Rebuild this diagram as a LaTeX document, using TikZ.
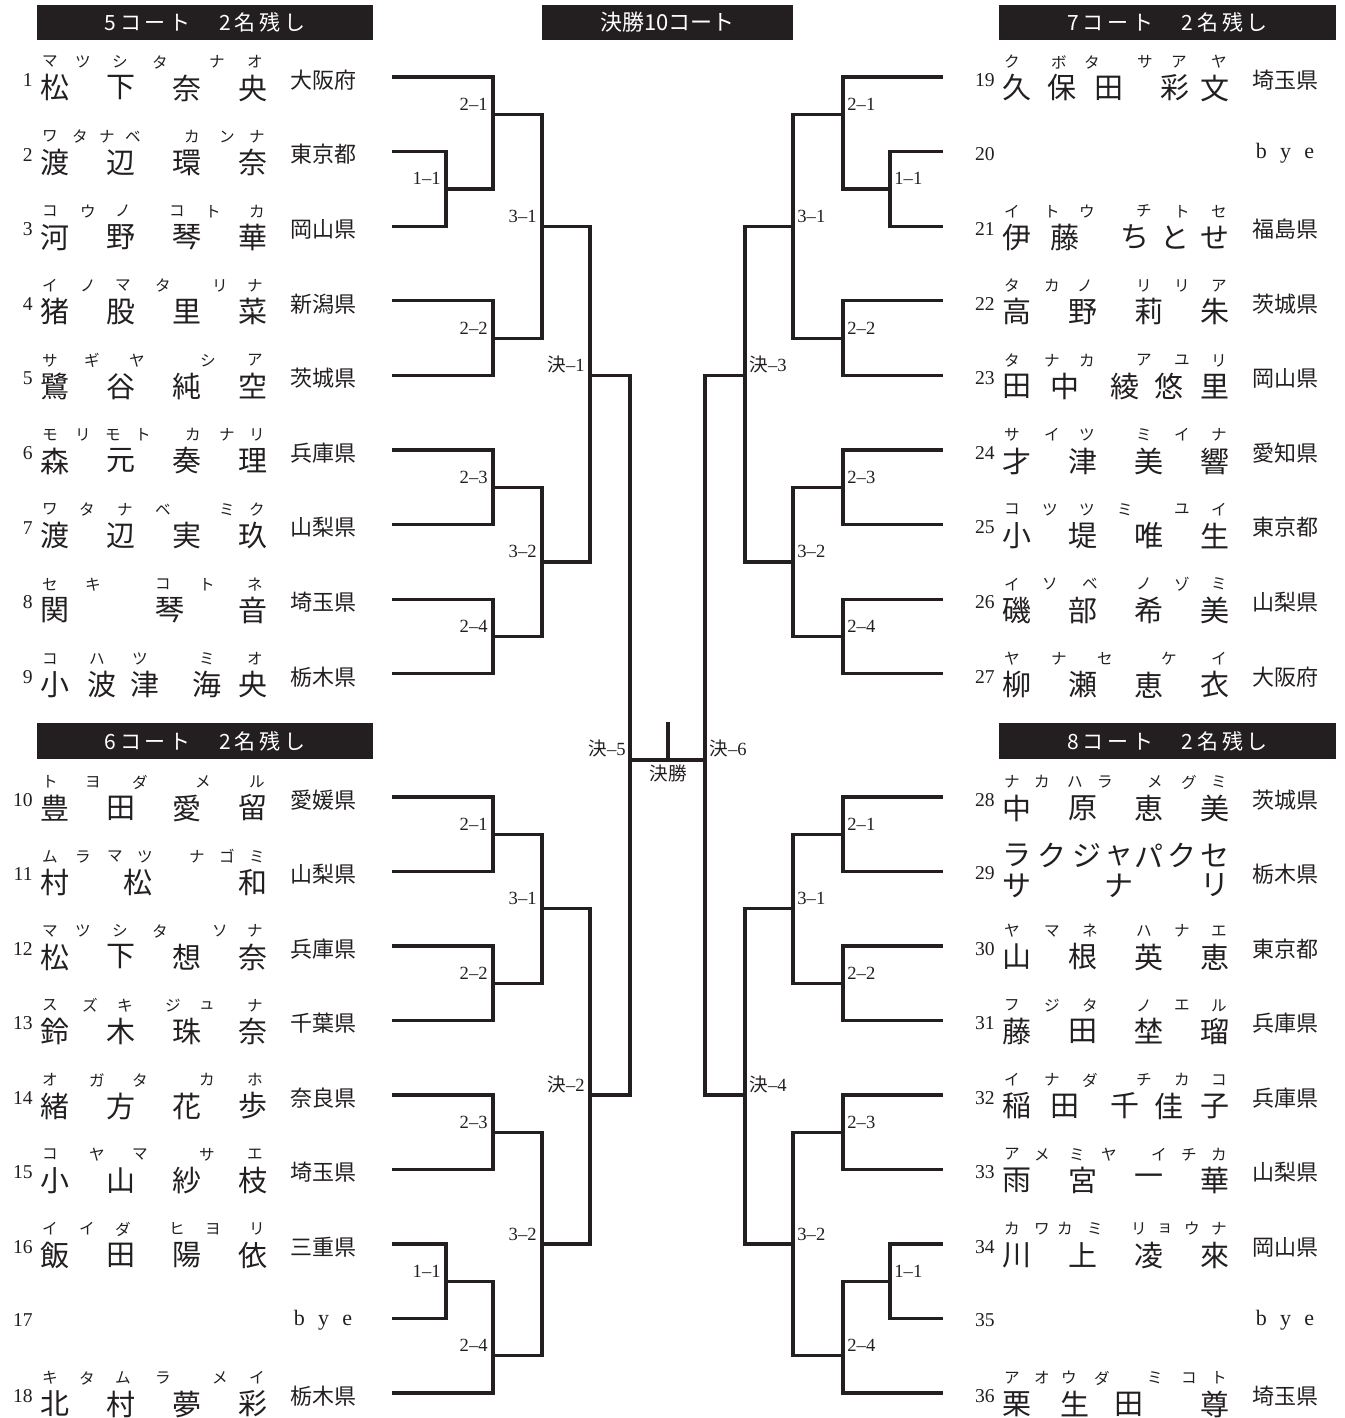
\documentclass[tikz,border=0pt]{standalone}
\usepackage{fontspec}
\setmainfont{Liberation Serif}
\newfontfamily\jp{Noto Sans CJK JP}
\newfontfamily\jphd[LetterSpace=18]{Noto Sans CJK JP}
\definecolor{ink}{HTML}{231F20}
\newcommand\ke{{\jp 決}}
\tikzset{
  br/.style={draw=ink, line width=1.6pt},
  kj/.style={inner sep=0, text=ink, font=\jp\fontsize{14.5}{15}\selectfont},
  kn/.style={inner sep=0, text=ink, font=\jp\fontsize{7.8}{8}\selectfont},
  numst/.style={inner sep=0, anchor=east, text=ink, font=\fontsize{9.8}{10}\selectfont},
  prefst/.style={inner sep=0, text=ink, font=\jp\fontsize{11}{11}\selectfont},
  byest/.style={inner sep=0, text=ink, font=\fontsize{11}{11}\selectfont},
  lbl/.style={inner sep=0, text=ink, font=\fontsize{9.3}{9.3}\selectfont},
  lbll/.style={lbl, anchor=base east},
  lblr/.style={lbl, anchor=base west},
  hdbox/.style={fill=ink, text=white, inner sep=0, minimum height=17.5pt, font=\jphd\fontsize{10.5}{11}\selectfont},
  hdc/.style={fill=ink, text=white, inner sep=0, minimum height=17.5pt, font=\jp\fontsize{11}{11}\selectfont}
}
% #1 x offset, #2 row y, #3 number, #4 kanji list, #5 kana list, #6 prefecture
\newcommand\player[6]{%
  \node[numst] (no#3) at (#1+33,#2+3) {#3};
  \foreach \xx/\cc [count=\ii] in {#4} {\node[kj] (kj#3-\ii) at (#1+\xx,#2+11) {\cc};}
  \foreach \xx/\cc [count=\ii] in {#5} {\node[kn] (kn#3-\ii) at (#1+\xx,#2-15) {\cc};}
  \node[prefst] (pf#3) at (#1+323,#2+3) {#6};
}
\newcommand\byeplayer[3]{%
  \node[numst] (no#3) at (#1+33,#2+2) {#3};
  \node[byest] (by#3) at (#1+323,#2+2) {b\hspace{0.6em}y\hspace{0.6em}e};
}
\begin{document}
\begin{tikzpicture}[x=0.5pt,y=-0.5pt]
\useasboundingbox (0,0) rectangle (1344,1418);

% headers
\node[hdbox, minimum width=168pt] (h5) at (205,22.5) {5コート　2名残し};
\node[hdc, minimum width=125.5pt] (h10) at (667.5,22.5) {決勝10コート};
\node[hdbox, minimum width=168.5pt] (h7) at (1167.5,22.5) {7コート　2名残し};
\node[hdbox, minimum width=168pt, minimum height=18pt] (h6) at (205,741) {6コート　2名残し};
\node[hdbox, minimum width=168.5pt, minimum height=18pt] (h8) at (1167.5,741) {8コート　2名残し};

% ---------- left players ----------
\player{0}{77}{1}{55/松,121/下,187/奈,253/央}{50/マ,83/ツ,120/シ,160/タ,217/ナ,255/オ}{大阪府}
\player{0}{151.6}{2}{55/渡,121/辺,187/環,253/奈}{50/ワ,80/タ,107/ナ,133/ベ,192/カ,227/ン,257/ナ}{東京都}
\player{0}{226.2}{3}{55/河,121/野,187/琴,253/華}{50/コ,88/ウ,123/ノ,177/コ,213/ト,257/カ}{岡山県}
\player{0}{300.8}{4}{55/猪,121/股,187/里,253/菜}{50/イ,88/ノ,123/マ,163/タ,220/リ,255/ナ}{新潟県}
\player{0}{375.4}{5}{55/鷺,121/谷,187/純,253/空}{50/サ,92/ギ,137/ヤ,208/シ,255/ア}{茨城県}
\player{0}{450}{6}{55/森,121/元,187/奏,253/理}{50/モ,83/リ,113/モ,143/ト,193/カ,227/ナ,257/リ}{兵庫県}
\player{0}{524.6}{7}{55/渡,121/辺,187/実,253/玖}{50/ワ,87/タ,125/ナ,163/ベ,227/ミ,257/ク}{山梨県}
\player{0}{599.2}{8}{55/関,170/琴,253/音}{50/セ,93/キ,163/コ,207/ト,255/ネ}{埼玉県}
\player{0}{673.8}{9}{55/小,102/波,145/津,207/海,253/央}{50/コ,97/ハ,140/ツ,207/ミ,255/オ}{栃木県}
\player{0}{797}{10}{55/豊,121/田,187/愛,253/留}{50/ト,93/ヨ,140/ダ,203/メ,257/ル}{愛媛県}
\player{0}{871.5}{11}{55/村,138/松,253/和}{50/ム,83/ラ,115/マ,145/ツ,197/ナ,227/ゴ,257/ミ}{山梨県}
\player{0}{946}{12}{55/松,121/下,187/想,253/奈}{50/マ,83/ツ,120/シ,160/タ,220/ソ,255/ナ}{兵庫県}
\player{0}{1020.5}{13}{55/鈴,121/木,187/珠,253/奈}{50/ス,90/ズ,125/キ,173/ジ,207/ュ,255/ナ}{千葉県}
\player{0}{1095}{14}{55/緒,121/方,187/花,253/歩}{50/オ,97/ガ,140/タ,207/カ,255/ホ}{奈良県}
\player{0}{1169.5}{15}{55/小,121/山,187/紗,253/枝}{50/コ,97/ヤ,140/マ,207/サ,255/エ}{埼玉県}
\player{0}{1244}{16}{55/飯,121/田,187/陽,253/依}{50/イ,87/イ,123/ダ,177/ヒ,213/ヨ,257/リ}{三重県}
\byeplayer{0}{1318.5}{17}
\player{0}{1393}{18}{55/北,121/村,187/夢,253/彩}{50/キ,87/タ,123/ム,163/ラ,220/メ,257/イ}{栃木県}

% ---------- right players ----------
\player{962}{77}{19}{55/久,100/保,147/田,213/彩,253/文}{50/ク,97/ボ,130/タ,183/サ,217/ア,257/ヤ}{埼玉県}
\byeplayer{962}{151.6}{20}
\player{962}{226.2}{21}{55/伊,103/藤,173/ち,213/と,253/せ}{50/イ,90/ト,125/ウ,182/チ,220/ト,257/セ}{福島県}
\player{962}{300.8}{22}{55/高,121/野,187/莉,253/朱}{50/タ,90/カ,123/ノ,182/リ,220/リ,257/ア}{茨城県}
\player{962}{375.4}{23}{55/田,103/中,163/綾,207/悠,253/里}{50/タ,90/ナ,125/カ,182/ア,220/ユ,257/リ}{岡山県}
\player{962}{450}{24}{55/才,121/津,187/美,253/響}{50/サ,90/イ,125/ツ,182/ミ,220/イ,257/ナ}{愛知県}
\player{962}{524.6}{25}{55/小,121/堤,187/唯,253/生}{50/コ,88/ツ,125/ツ,163/ミ,220/ユ,257/イ}{東京都}
\player{962}{599.2}{26}{55/磯,121/部,187/希,253/美}{50/イ,88/ソ,128/ベ,182/ノ,220/ゾ,257/ミ}{山梨県}
\player{962}{673.8}{27}{55/柳,121/瀬,187/恵,253/衣}{50/ヤ,97/ナ,143/セ,207/ケ,257/イ}{大阪府}
\player{962}{797}{28}{55/中,121/原,187/恵,253/美}{50/ナ,80/カ,113/ハ,143/ラ,193/メ,227/グ,257/ミ}{茨城県}
% row 29 (two-line name)
\node[numst] (no29) at (995,873.5) {29};
\foreach \xx/\cc [count=\ii] in {55/ラ,90/ク,125/ジ,157/ャ,187/パ,220/ク,253/セ}
  {\node[kj] (kjA29-\ii) at (962+\xx,855.5) {\cc};}
\foreach \xx/\cc [count=\ii] in {55/サ,157/ナ,253/リ}
  {\node[kj] (kjB29-\ii) at (962+\xx,885.5) {\cc};}
\node[prefst] (pf29) at (1285,874.5) {栃木県};
\player{962}{946}{30}{55/山,121/根,187/英,253/恵}{50/ヤ,90/マ,128/ネ,182/ハ,220/ナ,257/エ}{東京都}
\player{962}{1020.5}{31}{55/藤,121/田,187/埜,253/瑠}{50/フ,90/ジ,128/タ,182/ノ,220/エ,257/ル}{兵庫県}
\player{962}{1095}{32}{55/稲,103/田,163/千,207/佳,253/子}{50/イ,90/ナ,128/ダ,182/チ,220/カ,257/コ}{兵庫県}
\player{962}{1169.5}{33}{55/雨,121/宮,187/一,253/華}{50/ア,80/メ,115/ミ,147/ヤ,197/イ,227/チ,257/カ}{山梨県}
\player{962}{1244}{34}{55/川,121/上,187/凌,253/來}{50/カ,80/ワ,103/カ,133/ミ,177/リ,203/ョ,230/ウ,257/ナ}{岡山県}
\byeplayer{962}{1318.5}{35}
\player{962}{1393}{36}{55/栗,113/生,167/田,253/尊}{50/ア,80/オ,107/ウ,140/ダ,193/ミ,227/コ,257/ト}{埼玉県}

% ---------- player line ends ----------
\foreach \n/\yy in {1/77,2/151.6,3/226.2,4/300.8,5/375.4,6/450,7/524.6,8/599.2,9/673.8,
  10/797,11/871.5,12/946,13/1020.5,14/1095,15/1169.5,16/1244,17/1318.5,18/1393}
  {\coordinate (p\n) at (392,\yy);}
\foreach \n/\yy in {19/77,20/151.6,21/226.2,22/300.8,23/375.4,24/450,25/524.6,26/599.2,27/673.8,
  28/797,29/871.5,30/946,31/1020.5,32/1095,33/1169.5,34/1244,35/1318.5,36/1393}
  {\coordinate (p\n) at (943,\yy);}

% ---------- match points ----------
\coordinate (a11) at (446,188.9);
\coordinate (a21) at (493,114.3);
\coordinate (a22) at (493,338.1);
\coordinate (a31) at (542,226.2);
\coordinate (a23) at (493,487.3);
\coordinate (a24) at (493,636.5);
\coordinate (a32) at (542,561.9);
\coordinate (aJ) at (590,375.4);
\coordinate (b21) at (493,834.25);
\coordinate (b22) at (493,983.25);
\coordinate (b31) at (542,908.75);
\coordinate (b23) at (493,1132.25);
\coordinate (b11) at (446,1281.25);
\coordinate (b24) at (493,1355.75);
\coordinate (b32) at (542,1244);
\coordinate (bJ) at (590,1095);
\coordinate (c11) at (890,188.9);
\coordinate (c21) at (843,114.3);
\coordinate (c22) at (843,338.1);
\coordinate (c31) at (793,226.2);
\coordinate (c23) at (843,487.3);
\coordinate (c24) at (843,636.5);
\coordinate (c32) at (793,561.9);
\coordinate (cJ) at (745,375.4);
\coordinate (d21) at (843,834.25);
\coordinate (d22) at (843,983.25);
\coordinate (d31) at (793,908.75);
\coordinate (d23) at (843,1132.25);
\coordinate (d11) at (890,1281.25);
\coordinate (d24) at (843,1355.75);
\coordinate (d32) at (793,1244);
\coordinate (dJ) at (745,1095);
\coordinate (J5) at (630,760);
\coordinate (J6) at (705,760);
\coordinate (F) at (668,760);
\coordinate (Ft) at (668,722);

% ---------- bracket lines ----------
\draw[br] (p2) -| (a11) |- (p3);
\draw[br] (p1) -| (a21) |- (a11);
\draw[br] (p4) -| (a22) |- (p5);
\draw[br] (a21) -| (a31) |- (a22);
\draw[br] (p6) -| (a23) |- (p7);
\draw[br] (p8) -| (a24) |- (p9);
\draw[br] (a23) -| (a32) |- (a24);
\draw[br] (a31) -| (aJ) |- (a32);
\draw[br] (p10) -| (b21) |- (p11);
\draw[br] (p12) -| (b22) |- (p13);
\draw[br] (b21) -| (b31) |- (b22);
\draw[br] (p14) -| (b23) |- (p15);
\draw[br] (p16) -| (b11) |- (p17);
\draw[br] (b11) -| (b24) |- (p18);
\draw[br] (b23) -| (b32) |- (b24);
\draw[br] (b31) -| (bJ) |- (b32);
\draw[br] (p20) -| (c11) |- (p21);
\draw[br] (p19) -| (c21) |- (c11);
\draw[br] (p22) -| (c22) |- (p23);
\draw[br] (c21) -| (c31) |- (c22);
\draw[br] (p24) -| (c23) |- (p25);
\draw[br] (p26) -| (c24) |- (p27);
\draw[br] (c23) -| (c32) |- (c24);
\draw[br] (c31) -| (cJ) |- (c32);
\draw[br] (p28) -| (d21) |- (p29);
\draw[br] (p30) -| (d22) |- (p31);
\draw[br] (d21) -| (d31) |- (d22);
\draw[br] (p32) -| (d23) |- (p33);
\draw[br] (p34) -| (d11) |- (p35);
\draw[br] (d11) -| (d24) |- (p36);
\draw[br] (d23) -| (d32) |- (d24);
\draw[br] (d31) -| (dJ) |- (d32);
\draw[br] (aJ) -| (J5) |- (bJ);
\draw[br] (cJ) -| (J6) |- (dJ);
\draw[br] (J5) -- (J6);
\draw[br] (F) -- (Ft);

% ---------- match labels ----------
\foreach \m/\t in {a11/1–1,a21/2–1,a22/2–2,a31/3–1,a23/2–3,a24/2–4,a32/3–2,
  b21/2–1,b22/2–2,b31/3–1,b23/2–3,b11/1–1,b24/2–4,b32/3–2}
  {\node[lbll] (l\m) at ([shift={(-5,-4)}]\m) {\t};}
\foreach \m/\t in {c11/1–1,c21/2–1,c22/2–2,c31/3–1,c23/2–3,c24/2–4,c32/3–2,
  d21/2–1,d22/2–2,d31/3–1,d23/2–3,d11/1–1,d24/2–4,d32/3–2}
  {\node[lblr] (l\m) at ([shift={(4,-4)}]\m) {\t};}
\node[lbll] (laJ) at ([shift={(-5,-4)}]aJ) {\ke–1};
\node[lbll] (lbJ) at ([shift={(-5,-4)}]bJ) {\ke–2};
\node[lblr] (lcJ) at ([shift={(4,-4)}]cJ) {\ke–3};
\node[lblr] (ldJ) at ([shift={(4,-4)}]dJ) {\ke–4};
\node[lbll] (lJ5) at ([shift={(-4,-5)}]J5) {\ke–5};
\node[lblr] (lJ6) at ([shift={(4,-5)}]J6) {\ke–6};
\node[lbl, anchor=north, font=\jp\fontsize{9.3}{9.3}\selectfont] (lF) at ([shift={(0,4)}]F) {決勝};
\end{tikzpicture}
\end{document}
